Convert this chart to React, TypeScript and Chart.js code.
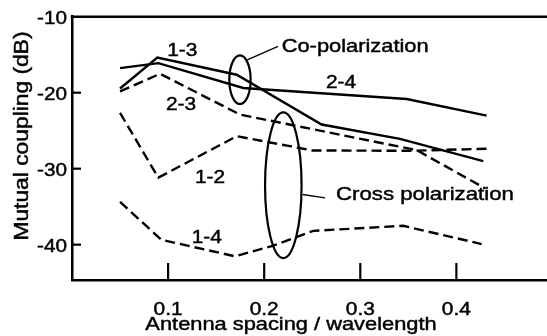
import React, { useEffect, useRef } from "react";
import { Chart, registerables } from "chart.js";
Chart.register(...registerables);

// Axis ticks
const xTicks = [0.1, 0.2, 0.3, 0.4];
const yTicks = [-10, -20, -30, -40];

// Series (antenna spacing / wavelength, mutual coupling dB)
const x13 = [0.05, 0.0888, 0.1714, 0.2598, 0.3413, 0.428];
const y13 = [-19.45, -15.37, -17.64, -24.19, -26.07, -29.0];
const x24 = [0.05, 0.0898, 0.1783, 0.3483, 0.4315];
const y24 = [-16.76, -16.11, -19.38, -20.83, -23.01];
const x23 = [0.05, 0.0916, 0.1748, 0.3587, 0.43];
const y23 = [-19.83, -17.51, -22.88, -27.56, -32.6];
const x12 = [0.05, 0.0898, 0.1714, 0.2268, 0.25, 0.35, 0.4315];
const y12 = [-22.66, -31.18, -25.73, -27.04, -27.6, -27.65, -27.38];
const x14 = [0.05, 0.093, 0.1696, 0.2095, 0.2511, 0.3447, 0.4263];
const y14 = [-34.38, -39.36, -41.53, -40.14, -38.18, -37.52, -39.92];

// Series labels (text, anchor in data units)
const labelText = ["1-3", "2-3", "2-4", "1-2", "1-4"];
const labelX = [0.1148, 0.1134, 0.28, 0.1436, 0.1402];
const labelY = [-15.15, -22.29, -19.38, -31.93, -39.79];

const FONT = '"Liberation Sans", Arial, Helvetica, sans-serif';
const SX = 1.17;

function pts(xs: number[], ys: number[]) {
  return xs.map((x, i) => ({ x, y: ys[i] }));
}

function stext(
  ctx: CanvasRenderingContext2D,
  t: string,
  x: number,
  y: number,
  size: number,
  align: CanvasTextAlign,
  sx = SX
) {
  ctx.save();
  ctx.font = `${size}px ${FONT}`;
  ctx.textAlign = align;
  ctx.textBaseline = "alphabetic";
  ctx.fillStyle = "#000";
  ctx.strokeStyle = "#000";
  ctx.lineWidth = 0.45;
  ctx.translate(x, y);
  ctx.scale(sx, 1);
  ctx.fillText(t, 0, 0);
  ctx.strokeText(t, 0, 0);
  ctx.restore();
}

const decor = {
  id: "decor",
  afterDraw(chart: any) {
    const ctx: CanvasRenderingContext2D = chart.ctx;
    const { left, right, top, bottom } = chart.chartArea;
    const xs = chart.scales.x;
    const ys = chart.scales.y;
    const px = (v: number) => xs.getPixelForValue(v);
    const py = (v: number) => ys.getPixelForValue(v);

    ctx.save();
    ctx.strokeStyle = "#000";
    ctx.lineWidth = 2.5;
    // top frame line
    ctx.beginPath();
    ctx.moveTo(left - 1.2, top);
    ctx.lineTo(right, top);
    ctx.stroke();
    // inward ticks
    ctx.lineWidth = 2.2;
    for (const v of yTicks) {
      if (v === -10) continue;
      ctx.beginPath();
      ctx.moveTo(left, py(v));
      ctx.lineTo(left + 9, py(v));
      ctx.stroke();
    }
    for (const v of xTicks) {
      ctx.beginPath();
      ctx.moveTo(px(v), bottom);
      ctx.lineTo(px(v), bottom - 17);
      ctx.stroke();
    }
    ctx.restore();

    // tick labels
    for (const v of yTicks) stext(ctx, String(v), left - 5, py(v) + 7, 18, "right", 1.15);
    for (const v of xTicks) stext(ctx, v.toFixed(1), px(v), bottom + 35, 18, "center", 1.16);

    // axis titles
    stext(ctx, "Antenna spacing / wavelength", (left + 510) / 2, bottom + 50, 18.5, "center", 1.18);
    ctx.save();
    ctx.translate(28, 136);
    ctx.rotate(-Math.PI / 2);
    ctx.scale(1.17, 1);
    ctx.font = `19.5px ${FONT}`;
    ctx.textAlign = "center";
    ctx.textBaseline = "alphabetic";
    ctx.fillStyle = "#000";
    ctx.strokeStyle = "#000";
    ctx.lineWidth = 0.45;
    ctx.fillText("Mutual coupling (dB)", 0, 0);
    ctx.strokeText("Mutual coupling (dB)", 0, 0);
    ctx.restore();

    // series labels
    labelText.forEach((t, i) => stext(ctx, t, px(labelX[i]), py(labelY[i]), 18, "center", 1.16));

    // ellipses + leaders
    ctx.save();
    ctx.strokeStyle = "#000";
    ctx.lineWidth = 2.2;
    const ell = (cx: number, cy: number, rx: number, ry: number) => {
      const X = px(cx), Y = py(cy);
      const RX = Math.abs(px(cx + rx) - X), RY = Math.abs(py(cy + ry) - Y);
      ctx.beginPath();
      ctx.ellipse(X, Y, RX, RY, 0, 0, Math.PI * 2);
      ctx.stroke();
    };
    ell(0.1748, -18.3, 0.0111, 3.21);
    ell(0.2199, -32.18, 0.019, 9.59);
    ctx.lineWidth = 1.3;
    ctx.beginPath();
    ctx.moveTo(px(0.1824), py(-15.67));
    ctx.lineTo(px(0.2144), py(-13.91));
    ctx.moveTo(px(0.240), py(-33.4));
    ctx.lineTo(px(0.2633), py(-33.84));
    ctx.stroke();
    ctx.restore();

    stext(ctx, "Co-polarization", px(0.2182), py(-14.59), 19, "left", 1.15);
    stext(ctx, "Cross polarization", px(0.2747), py(-34.09), 19, "left", 1.17);
  },
};

export default function App() {
  const ref = useRef<HTMLCanvasElement | null>(null);
  useEffect(() => {
    if (!ref.current) return;
    const solid = { borderColor: "#000", borderWidth: 2.4, pointRadius: 0, fill: false, tension: 0 };
    const dashed = { ...solid, borderDash: [10, 5] };
    const chart = new Chart(ref.current, {
      type: "line",
      data: {
        datasets: [
          { label: "1-3", data: pts(x13, y13), ...solid },
          { label: "2-4", data: pts(x24, y24), ...solid },
          { label: "2-3", data: pts(x23, y23), ...dashed },
          { label: "1-2", data: pts(x12, y12), ...dashed },
          { label: "1-4", data: pts(x14, y14), ...dashed },
        ] as any,
      },
      options: {
        animation: false,
        responsive: false,
        devicePixelRatio: 1,
        layout: { padding: { top: 16.7, right: 0, left: 0, bottom: 0 } },
        plugins: { legend: { display: false }, tooltip: { enabled: false } },
        scales: {
          x: {
            type: "linear",
            min: 0,
            max: 0.4943,
            grid: { display: false },
            border: { display: true, color: "#000", width: 2.5 },
            ticks: { display: false },
            afterFit: (s: any) => { s.height = 56; },
          },
          y: {
            type: "linear",
            min: -44.65,
            max: -10,
            grid: { display: false },
            border: { display: true, color: "#000", width: 2.5 },
            ticks: { display: false },
            afterFit: (s: any) => { s.width = 72; },
          },
        },
      } as any,
      plugins: [decor],
    });
    return () => chart.destroy();
  }, []);
  return (
    <div style={{ position: "fixed", left: 0, top: 0, width: 547, height: 336, background: "#fff" }}>
      <canvas ref={ref} width={547} height={336} />
    </div>
  );
}
